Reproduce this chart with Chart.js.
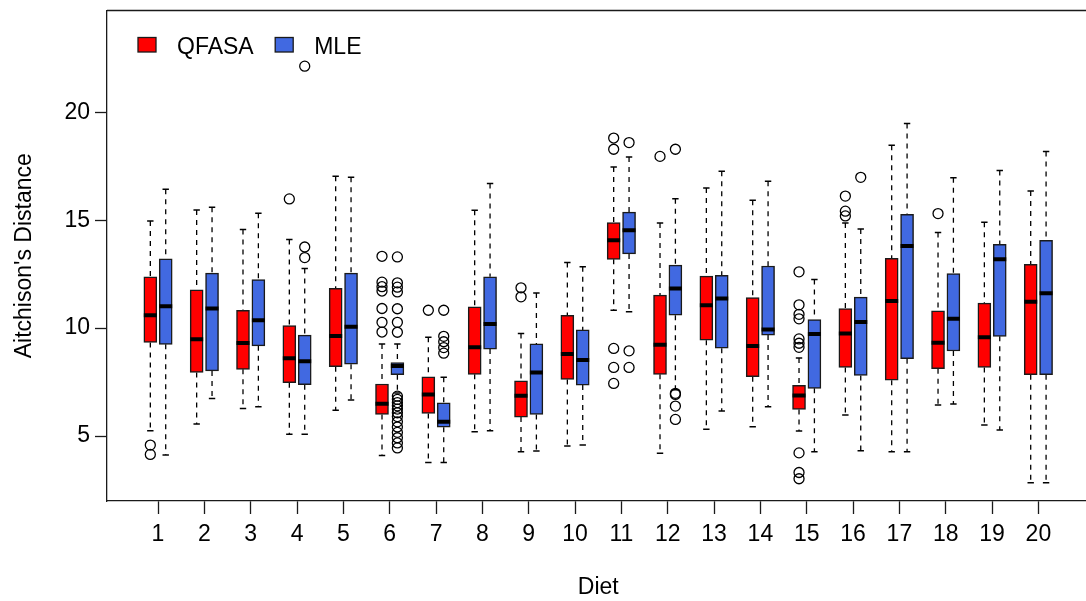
<!DOCTYPE html>
<html>
<head>
<meta charset="utf-8">
<title>Aitchison's Distance by Diet</title>
<script src="https://cdn.jsdelivr.net/npm/chart.js@4.4.1/dist/chart.umd.min.js"></script>
<style>
  html, body { margin: 0; padding: 0; background: #fff; overflow: hidden; }
  #wrap { width: 1100px; height: 601px; }
</style>
</head>
<body>
<div id="wrap"><canvas id="boxChart" width="1100" height="601"></canvas></div>
<script>
// diets on the x axis
const diets = [1, 2, 3, 4, 5, 6, 7, 8, 9, 10, 11, 12, 13, 14, 15, 16, 17, 18, 19, 20];
const yTicks = [5, 10, 15, 20];

// QFASA box stats
const qfasaLow  = [5.25, 5.56, 6.28, 5.08, 6.20, 4.10, 3.77, 5.20, 4.27, 4.54, 10.83, 4.20, 5.32, 5.43, 5.23, 5.97, 4.27, 6.44, 5.51, 2.84];
const qfasaQ1   = [9.34, 7.95, 8.09, 7.47, 8.21, 6.00, 6.05, 7.86, 5.88, 7.62, 13.19, 7.86, 9.44, 7.75, 6.23, 8.18, 7.59, 8.12, 8.18, 7.84];
const qfasaMed  = [10.60, 9.48, 9.31, 8.60, 9.64, 6.50, 6.92, 9.11, 6.87, 8.80, 14.07, 9.23, 11.06, 9.17, 6.88, 9.75, 11.26, 9.32, 9.58, 11.22];
const qfasaQ3   = [12.38, 11.77, 10.82, 10.12, 11.84, 7.41, 7.74, 10.99, 7.56, 10.59, 14.89, 11.53, 12.41, 11.42, 7.35, 10.91, 13.23, 10.80, 11.16, 12.96];
const qfasaHigh = [14.97, 15.48, 14.57, 14.11, 17.04, 9.27, 9.58, 15.46, 9.75, 13.04, 17.47, 14.87, 16.50, 15.93, 8.62, 14.87, 18.47, 14.43, 14.91, 16.36];
const qfasaOut = [
  [4.58, 4.15], [], [], [15.99], [],
  [13.33, 12.13, 11.92, 11.72, 10.91, 10.27, 9.82],
  [10.83], [], [11.87, 11.45], [],
  [18.81, 18.29, 9.06, 8.18, 7.44], [17.96], [], [],
  [12.61, 11.08, 10.64, 10.43, 9.50, 9.30, 9.11, 4.22, 3.31, 3.02],
  [16.12, 15.42, 15.20], [], [15.31], [], []
];

// MLE box stats
const mleLow  = [4.12, 6.74, 6.36, 5.08, 6.67, 7.00, 3.77, 5.25, 4.31, 4.58, 10.76, 7.15, 6.16, 6.36, 4.27, 4.32, 4.27, 6.48, 5.28, 2.84];
const mleQ1   = [9.25, 8.02, 9.18, 7.38, 8.33, 7.84, 5.41, 9.03, 6.00, 7.36, 13.44, 10.60, 9.07, 9.68, 7.21, 7.81, 8.58, 8.94, 9.62, 7.84];
const mleMed  = [11.02, 10.91, 10.37, 8.47, 10.06, 8.25, 5.66, 10.19, 7.95, 8.52, 14.54, 11.84, 11.37, 9.94, 9.73, 10.29, 13.81, 10.43, 13.19, 11.62];
const mleQ3   = [13.21, 12.55, 12.25, 9.68, 12.55, 8.41, 6.54, 12.38, 9.27, 9.92, 15.38, 12.92, 12.45, 12.88, 10.40, 11.44, 15.28, 12.53, 13.88, 14.07];
const mleHigh = [16.44, 15.60, 15.32, 12.76, 16.99, 9.27, 7.72, 16.70, 11.63, 12.84, 17.93, 16.00, 17.27, 16.81, 12.26, 14.60, 19.48, 16.97, 17.31, 18.19];
const mleOut = [
  [], [], [], [22.14, 13.76, 13.27], [],
  [13.30, 12.10, 11.90, 11.68, 10.90, 10.27, 9.81, 6.85, 6.70, 6.55, 6.40, 6.25, 6.08, 5.90, 5.66, 5.42, 5.17, 4.92, 4.68, 4.45],
  [10.83, 9.62, 9.37, 9.10, 8.84], [], [], [],
  [18.60, 8.95, 8.18], [18.29, 6.98, 6.93, 6.39, 5.77], [], [], [],
  [16.99], [], [], [], []
];

const FONT = '"Liberation Sans", Arial, Helvetica, sans-serif';
const INK = '#1a1a1a';
const shift = 0.166; // each box sits this far (diet units) left/right of its tick

Chart.defaults.font.family = FONT;
Chart.defaults.font.size = 23;
Chart.defaults.color = '#000';

const groups = [
  { name: 'QFASA', color: '#FF0000', off: -shift, low: qfasaLow, q1: qfasaQ1, med: qfasaMed, q3: qfasaQ3, high: qfasaHigh, out: qfasaOut },
  { name: 'MLE', color: '#4169E1', off: shift, low: mleLow, q1: mleQ1, med: mleMed, q3: mleQ3, high: mleHigh, out: mleOut }
];

const datasets = [];
groups.forEach(g => {
  const at = i => diets[i] + g.off;

  // box from Q1 to Q3
  datasets.push({
    type: 'bar',
    label: g.name,
    data: diets.map((d, i) => ({ x: at(i), y: [g.q1[i], g.q3[i]] })),
    backgroundColor: g.color,
    borderColor: INK,
    borderWidth: 1.5,
    borderSkipped: false,
    barThickness: 13,
    grouped: false,
    order: 2
  });

  // dashed whiskers, broken between boxes
  const wh = [];
  diets.forEach((d, i) => {
    wh.push({ x: at(i), y: g.high[i] }, { x: at(i), y: g.q3[i] }, { x: at(i), y: null });
    wh.push({ x: at(i), y: g.q1[i] }, { x: at(i), y: g.low[i] }, { x: at(i), y: null });
  });
  datasets.push({
    type: 'line',
    label: g.name + ' whiskers',
    data: wh,
    borderColor: '#000',
    borderWidth: 1.3,
    borderDash: [5, 5],
    pointRadius: 0,
    spanGaps: false,
    fill: false,
    order: 3
  });

  // staples at whisker ends
  const caps = [];
  diets.forEach((d, i) => { caps.push({ x: at(i), y: g.low[i] }, { x: at(i), y: g.high[i] }); });
  datasets.push({
    type: 'scatter',
    label: g.name + ' caps',
    data: caps,
    pointStyle: 'line',
    pointRadius: 3.2,
    pointBorderWidth: 1.5,
    pointBorderColor: '#000',
    order: 1
  });

  // thick median bar
  datasets.push({
    type: 'scatter',
    label: g.name + ' median',
    data: diets.map((d, i) => ({ x: at(i), y: g.med[i] })),
    pointStyle: 'line',
    pointRadius: 6.5,
    pointBorderWidth: 4,
    pointBorderColor: '#000',
    order: 1
  });

  // outliers as open circles
  const outs = [];
  diets.forEach((d, i) => g.out[i].forEach(v => outs.push({ x: at(i), y: v })));
  datasets.push({
    type: 'scatter',
    label: g.name + ' outliers',
    data: outs,
    pointStyle: 'circle',
    pointRadius: 5,
    pointBorderWidth: 1.3,
    pointBorderColor: '#000',
    pointBackgroundColor: 'rgba(0,0,0,0)',
    order: 0
  });
});

// top edge of the plot frame (left and bottom come from the axes)
const frameTop = {
  id: 'frameTop',
  afterDraw(chart) {
    const { ctx, chartArea } = chart;
    ctx.save();
    ctx.strokeStyle = INK;
    ctx.lineWidth = 1.3;
    ctx.beginPath();
    ctx.moveTo(chartArea.left, chartArea.top);
    ctx.lineTo(chart.width, chartArea.top);
    ctx.stroke();
    ctx.restore();
  }
};

// R-style legend inside the plot, top left
const boxLegend = {
  id: 'boxLegend',
  afterDraw(chart) {
    const { ctx, chartArea } = chart;
    ctx.save();
    ctx.font = '23px ' + FONT;
    ctx.textBaseline = 'alphabetic';
    let x = chartArea.left + 31;
    const y = chartArea.top + 27;
    chart.data.datasets.filter(ds => ds.type === 'bar').forEach(ds => {
      ctx.fillStyle = ds.backgroundColor;
      ctx.fillRect(x, y, 18, 14.5);
      ctx.strokeStyle = INK;
      ctx.lineWidth = 1.3;
      ctx.strokeRect(x, y, 18, 14.5);
      ctx.fillStyle = '#000';
      ctx.fillText(ds.label, x + 39, y + 16);
      x += 39 + ctx.measureText(ds.label).width + 21.5;
    });
    ctx.restore();
  }
};

const ctx = document.getElementById('boxChart').getContext('2d');
const chart = new Chart(ctx, {
  type: 'bar',
  data: { datasets: datasets },
  options: {
    responsive: false,
    animation: false,
    events: [],
    layout: { padding: { left: 0, top: 10, right: 7, bottom: 0 } },
    plugins: {
      legend: { display: false },
      tooltip: { enabled: false }
    },
    scales: {
      x: {
        type: 'linear',
        min: -0.101,
        max: 21.103,
        offset: false,
        afterBuildTicks: s => { s.ticks = diets.map(v => ({ value: v })); },
        afterFit: s => { s.height = 100; s.paddingLeft = 0; s.paddingRight = 0; },
        grid: { drawOnChartArea: false, drawTicks: true, tickLength: 13, tickWidth: 1.3, tickColor: INK, offset: false },
        border: { display: true, color: INK, width: 1.3 },
        ticks: { color: '#000', padding: 7, maxRotation: 0, autoSkip: false, font: { size: 23 } },
        title: { display: true, text: 'Diet', color: '#000', font: { size: 23 }, padding: { top: 0, bottom: 0 } }
      },
      y: {
        type: 'linear',
        min: 1.99,
        max: 24.72,
        afterBuildTicks: s => { s.ticks = yTicks.map(v => ({ value: v })); },
        afterFit: s => { s.width = 107; s.paddingTop = 0; s.paddingBottom = 0; },
        grid: { drawOnChartArea: false, drawTicks: true, tickLength: 12, tickWidth: 1.3, tickColor: INK },
        border: { display: true, color: INK, width: 1.3 },
        ticks: { color: '#000', padding: 5, font: { size: 23 } },
        title: { display: true, text: "Aitchison's Distance", color: '#000', font: { size: 23 }, padding: { top: 11, bottom: 0 } }
      }
    }
  },
  plugins: [frameTop, boxLegend]
});
</script>
</body>
</html>
